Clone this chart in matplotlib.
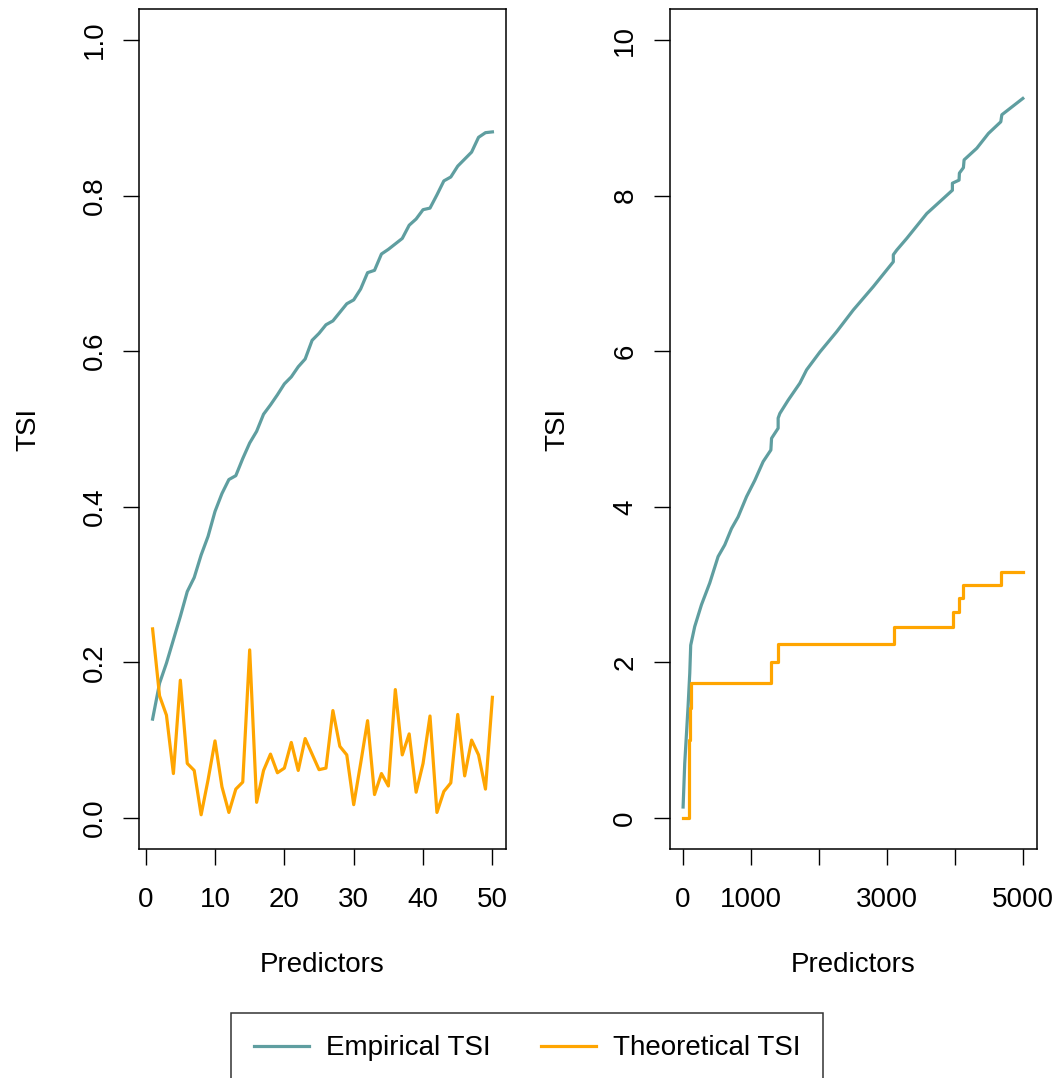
import numpy as np
import matplotlib
matplotlib.use("Agg")
import matplotlib.pyplot as plt

plt.rcParams["font.family"] = ["Liberation Sans", "DejaVu Sans"]

TEAL = "cadetblue"
ORANGE = "orange"

# ── Left panel: 50 predictors ────────────────────────────────────────────────
pred_small = np.arange(1, 51)
emp_small = [0.127, 0.173, 0.199, 0.229, 0.259, 0.291, 0.309, 0.338, 0.362, 0.394,
             0.417, 0.435, 0.440, 0.462, 0.482, 0.497, 0.519, 0.531, 0.544, 0.558,
             0.567, 0.580, 0.590, 0.614, 0.623, 0.634, 0.639, 0.650, 0.661, 0.666,
             0.680, 0.701, 0.704, 0.725, 0.731, 0.738, 0.745, 0.762, 0.770, 0.782,
             0.784, 0.801, 0.819, 0.824, 0.838, 0.847, 0.856, 0.875, 0.881, 0.882]
theo_small = [0.243, 0.157, 0.132, 0.057, 0.177, 0.070, 0.061, 0.004, 0.049, 0.099,
              0.040, 0.007, 0.037, 0.046, 0.216, 0.020, 0.061, 0.082, 0.058, 0.064,
              0.097, 0.061, 0.102, 0.082, 0.062, 0.064, 0.138, 0.092, 0.081, 0.017,
              0.070, 0.125, 0.030, 0.057, 0.041, 0.165, 0.081, 0.108, 0.033, 0.070,
              0.131, 0.007, 0.034, 0.045, 0.133, 0.054, 0.100, 0.081, 0.037, 0.155]

# ── Right panel: 5000 predictors ─────────────────────────────────────────────
emp_big_x = [1, 25, 74, 99, 113, 172, 271, 393, 516, 614, 713, 810, 934, 1056,
             1178, 1292, 1302, 1399, 1399, 1424, 1546, 1719, 1817, 2013, 2259,
             2504, 2798, 3093, 3093, 3143, 3290, 3585, 3962, 3962, 4060, 4065,
             4124, 4134, 4321, 4492, 4674, 4689, 4998]
emp_big_y = [0.14, 0.70, 1.43, 1.86, 2.22, 2.46, 2.74, 3.02, 3.36, 3.51, 3.72,
             3.87, 4.13, 4.34, 4.58, 4.73, 4.88, 5.01, 5.14, 5.20, 5.37, 5.59,
             5.76, 5.99, 6.25, 6.53, 6.83, 7.15, 7.24, 7.30, 7.45, 7.77, 8.07,
             8.16, 8.20, 8.29, 8.36, 8.46, 8.61, 8.80, 8.95, 9.04, 9.25]
theo_big_x = [1, 88, 108, 124, 1292, 1399, 3103, 3971, 4060, 4124, 4674, 4998]
theo_big_y = [0.00, 1.00, 1.41, 1.73, 2.00, 2.24, 2.45, 2.65, 2.83, 3.00, 3.16, 3.16]

W, H = 1060, 1078
fig = plt.figure(figsize=(W / 100, H / 100), dpi=100)

FS = 20
LW = 2.3


def style(ax, xlim, ylim, xticks, xticklabels, yticks, yticklabels):
    ax.set_xlim(*xlim)
    ax.set_ylim(*ylim)
    ax.set_xticks(xticks)
    ax.set_xticklabels(xticklabels)
    ax.set_yticks(yticks)
    ax.set_yticklabels(yticklabels)
    for s in ax.spines.values():
        s.set_linewidth(1.1)
    ax.tick_params(axis="both", direction="out", length=11.5, width=1.0,
                   labelsize=FS, color="black")
    ax.tick_params(axis="x", pad=16)
    ax.tick_params(axis="y", pad=11)
    for lab in ax.get_yticklabels():
        lab.set_rotation(90)
        lab.set_va("center")
        lab.set_ha("right")
    ax.set_xlabel("Predictors", fontsize=FS)
    ax.set_ylabel("TSI", fontsize=FS)
    ax.xaxis.set_label_coords(0.5, -0.138)
    ax.xaxis.label.set_va("center")
    ax.yaxis.set_label_coords(-0.302, 0.5)
    ax.yaxis.label.set_va("center")


ax1 = fig.add_axes([139 / W, 1 - 849 / H, 367 / W, 840 / H])
ax1.plot(pred_small, emp_small, color=TEAL, lw=LW)
ax1.plot(pred_small, theo_small, color=ORANGE, lw=LW)
style(ax1, (-0.96, 51.96), (-0.04, 1.04),
      [0, 10, 20, 30, 40, 50], ["0", "10", "20", "30", "40", "50"],
      [0, 0.2, 0.4, 0.6, 0.8, 1.0], ["0.0", "0.2", "0.4", "0.6", "0.8", "1.0"])

ax2 = fig.add_axes([669.5 / W, 1 - 849 / H, 367 / W, 840 / H])
ax2.plot(emp_big_x, emp_big_y, color=TEAL, lw=LW)
ax2.plot(theo_big_x, theo_big_y, color=ORANGE, lw=LW, drawstyle="steps-post")
style(ax2, (-199, 5199), (-0.4, 10.4),
      [0, 1000, 2000, 3000, 4000, 5000], ["0", "1000", "", "3000", "", "5000"],
      [0, 2, 4, 6, 8, 10], ["0", "2", "4", "6", "8", "10"])
ax2.yaxis.set_label_coords(-0.3065, 0.5)

handles = [plt.Line2D([0], [0], color=TEAL, lw=LW),
           plt.Line2D([0], [0], color=ORANGE, lw=LW)]
leg = fig.legend(handles, ["Empirical TSI", "Theoretical TSI"],
                 loc="upper center", bbox_to_anchor=(527 / W, 1 - 1013 / H),
                 ncol=2, fontsize=FS, frameon=True, fancybox=False,
                 edgecolor="black", borderpad=0.8, handlelength=2.0,
                 handletextpad=0.6, columnspacing=1.8, borderaxespad=0)
leg.get_frame().set_linewidth(1.1)

fig.savefig("out.png", dpi=100)
